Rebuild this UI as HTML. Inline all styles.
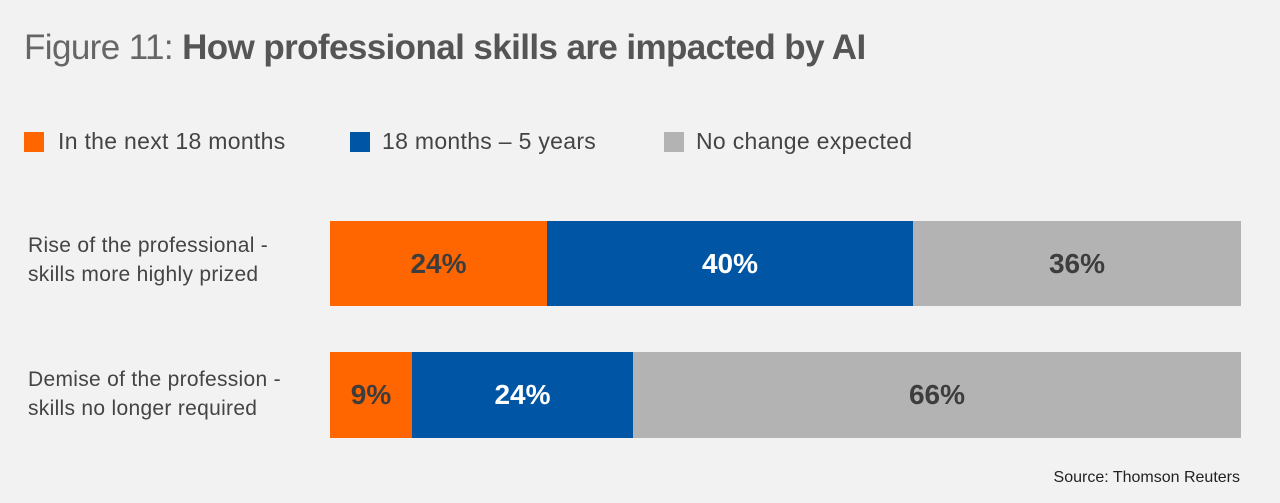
<!DOCTYPE html>
<html><head><style>
body{margin:0;width:1280px;height:503px;background:#f2f2f2;font-family:"Liberation Sans",sans-serif;color:#444;position:relative;overflow:hidden}
div{position:absolute}
.t{left:24px;top:28px;font-size:35px;color:#666;white-space:nowrap;letter-spacing:-0.6px}
.t b{color:#555}
.lg{top:128px;font-size:23px;color:#444;white-space:nowrap;letter-spacing:0.3px}
.sq{width:20px;height:20px;top:132px}
.lab{left:28px;font-size:21px;line-height:29px;color:#444;white-space:nowrap;letter-spacing:0.3px}
.seg{display:flex;align-items:center;justify-content:center;font-weight:bold;font-size:28px;color:#3d3d3d}
.src{right:40px;top:469px;font-size:16px;color:#222}
</style></head><body>
<div class="t">Figure 11: <b>How professional skills are impacted by AI</b></div>
<div class="sq" style="left:24px;background:#ff6600"></div><div class="lg" style="left:58px">In the next 18 months</div>
<div class="sq" style="left:350px;background:#0055a5"></div><div class="lg" style="left:382px">18 months – 5 years</div>
<div class="sq" style="left:664px;background:#b3b3b3"></div><div class="lg" style="left:696px">No change expected</div>
<div class="lab" style="top:231px">Rise of the professional -<br>skills more highly prized</div>
<div class="lab" style="top:365px">Demise of the profession -<br>skills no longer required</div>
<div class="seg" style="left:330px;top:221px;width:217px;height:85px;background:#ff6600">24%</div>
<div class="seg" style="left:547px;top:221px;width:366px;height:85px;background:#0055a5;color:#fff">40%</div>
<div class="seg" style="left:913px;top:221px;width:328px;height:85px;background:#b3b3b3">36%</div>
<div class="seg" style="left:330px;top:352px;width:82px;height:86px;background:#ff6600">9%</div>
<div class="seg" style="left:412px;top:352px;width:221px;height:86px;background:#0055a5;color:#fff">24%</div>
<div class="seg" style="left:633px;top:352px;width:608px;height:86px;background:#b3b3b3">66%</div>
<div class="src">Source: Thomson Reuters</div>
</body></html>
